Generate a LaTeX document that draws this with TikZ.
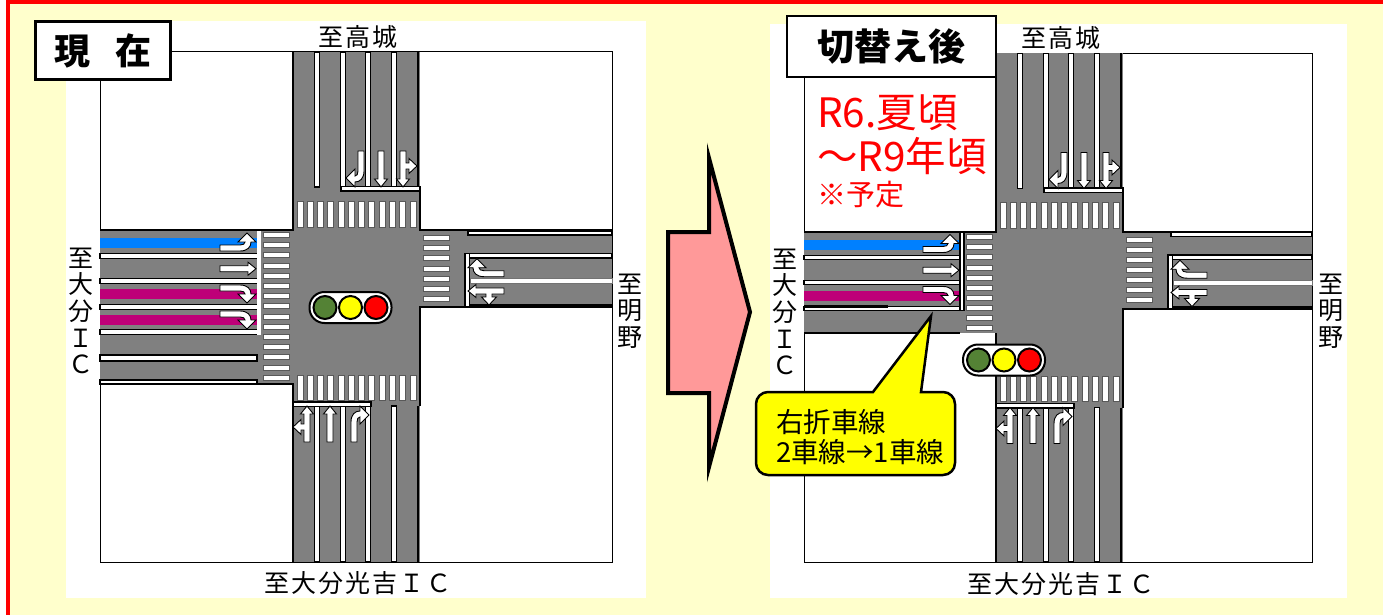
\documentclass[tikz,border=0pt]{standalone}
\usepackage{fontspec}
\newfontfamily\cjk{Noto Sans CJK JP}
\newfontfamily\cjkw[LetterSpace=8]{Noto Sans CJK JP}
\definecolor{paper}{HTML}{FFFFCC}
\definecolor{road}{HTML}{808080}
\definecolor{bandblue}{HTML}{0080FF}
\definecolor{bandpink}{HTML}{BE0078}
\definecolor{arrowpink}{HTML}{FF9999}
\definecolor{lampgreen}{HTML}{548235}
\definecolor{lampyellow}{HTML}{FFFF00}
\definecolor{lampred}{HTML}{FF0000}
\tikzset{
  laneline/.style={draw=black, fill=white, line width=1.3pt},
  crossbar/.style={draw=black!65, fill=white, line width=0.9pt},
  edgeline/.style={black, line width=2pt},
  arrowmark/.style={draw=black, fill=white, line width=0.9pt},
  roadlabel/.style={font=\cjkw\fontsize{25}{26.7}\selectfont, inner sep=0pt, align=center},
  titlebox/.style={draw=black, fill=white, line width=2.5pt, inner sep=0pt, font=\cjk\bfseries\fontsize{36}{38}\selectfont},
  redtext/.style={text=lampred, anchor=west, inner sep=0pt},
  thrumark/.pic={\draw[arrowmark] (0,-3) -- (28,-3) -- (28,-6.5) -- (36,0) -- (28,6.5) -- (28,3) -- (0,3) -- cycle;},
  turnmark/.pic={\draw[arrowmark] (0,-3) -- (20,-3) .. controls (27.5,-3) and (31,1) .. (31,6) -- (36,6) -- (27,15) -- (18,6) -- (25,6) .. controls (25,4) and (23,3) .. (20,3) -- (0,3) -- cycle;},
  branchmark/.pic={\draw[arrowmark] (0,-3) -- (12,-3) -- (12,-6) -- (7.5,-6) -- (15,-14) -- (22.5,-6) -- (18,-6) -- (18,-3) -- (28,-3) -- (28,-6.5) -- (36,0) -- (28,6.5) -- (28,3) -- (0,3) -- cycle;},
  signal/.pic={
    \draw[black, fill=white, line width=2pt, rounded corners=15pt] (-41,-15.5) rectangle (41,15.5);
    \draw[black, line width=2pt, fill=lampgreen] (-25.5,0) circle[radius=11.5pt];
    \draw[black, line width=2pt, fill=lampyellow] (0,0) circle[radius=11.5pt];
    \draw[black, line width=2pt, fill=lampred] (25.5,0) circle[radius=11.5pt];
  }
}
% the parts that both plans share: #1 east end, #2 south end
\newcommand{\crossingbody}[2]{
  \fill[road] (293,52) rectangle (420,#2);
  \fill[road] (420,230) rectangle (#1,307);
  \draw[edgeline] (293,52) -- (293,187);
  \draw[edgeline] (418,52) -- (418,187);
  \draw[edgeline] (420,187) -- (420,230) -- (#1,230);
  \draw[edgeline] (420,406) -- (420,307) -- (#1,307);
  % north arm
  \draw[laneline] (314.5,52) rectangle (319.5,187);
  \foreach \lx in {343,368,394}
    \draw[laneline] (\lx-2.5,52) rectangle (\lx+2.5,187);
  \draw[laneline] (341,186.5) rectangle (420,191);
  \pic[rotate=-90] at (361,151) {turnmark};
  \pic[rotate=-90] at (381,151) {thrumark};
  \pic[rotate=-90] at (403,151) {branchmark};
  % south arm
  \foreach \lx in {317,343,368,394}
    \draw[laneline] (\lx-2.5,406) rectangle (\lx+2.5,#2);
  \draw[edgeline] (418,406) -- (418,#2);
  \draw[edgeline] (293,406) -- (293,#2);
  \draw[laneline] (293,402) rectangle (371,406.5);
  \pic[rotate=90] at (307,442) {branchmark};
  \pic[rotate=90] at (330,442) {thrumark};
  \pic[rotate=90] at (354,442) {turnmark};
  % east arm
  \draw[laneline] (468,231) rectangle (#1,235);
  \draw[laneline] (465,253.5) rectangle (#1,258);
  \draw[laneline] (465,253.5) rectangle (469.5,307);
  \draw[draw=black!55, fill=white, line width=1pt] (470,278.5) rectangle (#1,283.5);
  \draw[edgeline] (470,305) -- (#1,305);
  \pic[rotate=180] at (504,273.7) {turnmark};
  \pic[rotate=180] at (504,291) {branchmark};
  % zebra crossings
  \foreach \bi in {0,...,11} {
    \draw[crossbar] (297+\bi*10.27,201) rectangle (303+\bi*10.27,227);
    \draw[crossbar] (297+\bi*10.27,375) rectangle (303+\bi*10.27,400);
  }
  \foreach \bi in {0,...,6}
    \draw[crossbar] (423,235.5+\bi*10.15) rectangle (449,240.5+\bi*10.15);
}
\begin{document}
\begin{tikzpicture}[x=1pt, y=-1pt]
  \useasboundingbox (0,0) rectangle (1383,615);
  \fill[white] (0,0) rectangle (1383,615);
  \fill[lampred] (6,0) rectangle (1383,615);
  \fill[paper] (10,4) rectangle (1383,615);
  \fill[white] (66,21) rectangle (646,598);
  \fill[white] (770,24) rectangle (1347,598);

  % before
  \draw[black, fill=white, line width=1pt] (100,52) rectangle (612,562);
  \crossingbody{612}{562}
  \fill[road] (100,230) rectangle (293,384);
  \draw[edgeline] (100,230) -- (293,230) -- (293,187);
  \draw[edgeline] (100,384) -- (293,384) -- (293,406);
  \fill[bandblue] (100,238) rectangle (257,248);
  \fill[bandpink] (100,289) rectangle (257,299);
  \fill[bandpink] (100,315) rectangle (257,325);
  \foreach \ly in {256,281,307,332}
    \draw[laneline] (100,\ly-2.5) rectangle (259,\ly+2.5);
  \fill[white] (257,231) rectangle (261,335);
  \draw[laneline] (100,355) rectangle (257,361);
  \draw[laneline] (100,380) rectangle (257,384);
  \foreach \bi in {0,...,14}
    \draw[crossbar] (263,232.5+\bi*10.2) rectangle (289,237.5+\bi*10.2);
  \pic[yscale=-1] at (220,248) {turnmark};
  \pic at (220,268.7) {thrumark};
  \pic at (220,288) {turnmark};
  \pic at (220,314) {turnmark};
  \pic (sigA) at (350.5,307.5) {signal};

  % after
  \begin{scope}[shift={(703,1.5)}]
    \draw[black, fill=white, line width=1pt] (101,52) rectangle (609,560.5);
    \crossingbody{609}{560.5}
    \fill[road] (101,230) rectangle (293,331);
    \draw[edgeline] (101,230) -- (293,230) -- (293,187);
    \draw[edgeline] (293,406) -- (293,331);
    \draw[edgeline] (101,331) -- (257,331);
    \draw[black!50, line width=0.8pt] (257,331) -- (293,331);
    \fill[bandblue] (101,238) rectangle (257,248);
    \fill[bandpink] (101,289) rectangle (257,299);
    \draw[laneline] (101,254) rectangle (259,258);
    \draw[laneline] (101,279) rectangle (259,283);
    \draw[laneline] (101,305) rectangle (259,309);
    \fill[black] (101,303.5) rectangle (185,306.5);
    \draw[laneline] (257,231) rectangle (261,309);
    \foreach \bi in {0,...,9}
      \draw[crossbar] (263,233+\bi*10.15) rectangle (289,238+\bi*10.15);
    \pic[yscale=-1] at (220,248) {turnmark};
    \pic at (220,268.7) {thrumark};
    \pic at (220,288) {turnmark};
  \end{scope}
  \pic (sigB) at (1004,360) {signal};

  % big arrow
  \draw[black, fill=arrowpink, line width=4pt, miter limit=10] (668,232) -- (709,232) -- (709,158) -- (750,312) -- (709,467) -- (709,393) -- (668,393) -- cycle;

  % callout
  \draw[black, fill=lampyellow, line width=2.5pt] (840,392) -- (873,392) -- (931,316) -- (921,392) -- (940,392) [rounded corners=12pt] -- (955,392) -- (955,475) -- (756,475) -- (756,392) -- cycle;
  \node[anchor=west, inner sep=0pt, font=\cjk\fontsize{27.5}{30}\selectfont, align=left] (changeNote) at (776,437) {右折車線\\2車線→1車線};

  % titles and road names
  \node[titlebox, minimum width=135pt, minimum height=58pt] (titleBefore) at (103,50.5) {\raisebox{-3pt}{現\hspace{26pt}在}};
  \node[titlebox, minimum width=209pt, minimum height=61pt, font=\cjk\bfseries\fontsize{37}{40}\selectfont] (titleAfter) at (891.5,46.5) {切替え後};
  \node[redtext, font=\cjk\fontsize{40.5}{44}\selectfont] (dateFrom) at (817,113) {R6.夏頃};
  \node[redtext, font=\cjk\fontsize{40.5}{44}\selectfont] (dateTo) at (817,156) {～R9年頃};
  \node[redtext, font=\cjk\fontsize{29}{32}\selectfont] (dateNote) at (817,195) {※予定};

  \node[roadlabel] (northA) at (358,37) {至高城};
  \node[roadlabel] (northB) at (1061,38) {至高城};
  \node[roadlabel] (southA) at (358,583) {至大分光吉ＩＣ};
  \node[roadlabel] (southB) at (1061,584) {至大分光吉ＩＣ};
  \node[roadlabel] (westA) at (81,311) {至\\大\\分\\Ｉ\\Ｃ};
  \node[roadlabel] (westB) at (785,312) {至\\大\\分\\Ｉ\\Ｃ};
  \node[roadlabel] (eastA) at (630,311) {至\\明\\野};
  \node[roadlabel] (eastB) at (1331,311) {至\\明\\野};
\end{tikzpicture}
\end{document}
